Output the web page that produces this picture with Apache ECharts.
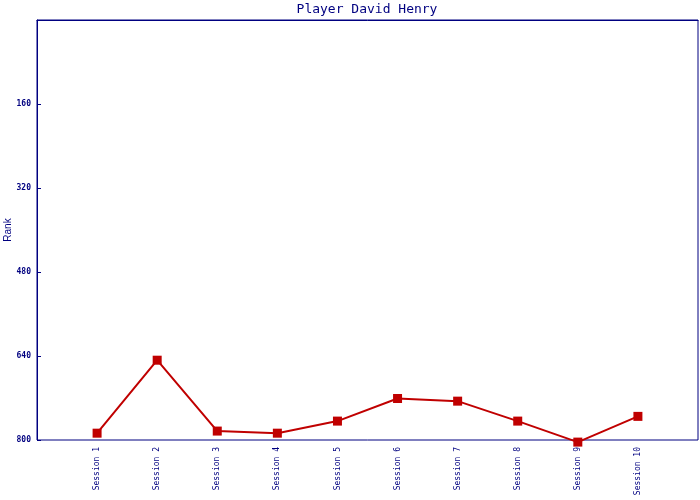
<!DOCTYPE html>
<html>
<head>
<meta charset="utf-8">
<script src="https://cdn.jsdelivr.net/npm/echarts@6/dist/echarts.min.js"></script>
<style>html,body{margin:0;padding:0;background:#fff}#c{width:700px;height:500px}</style>
</head>
<body>
<div id="c"></div>
<script>
var categories = ['', 'Session 1', 'Session 2', 'Session 3', 'Session 4', 'Session 5', 'Session 6', 'Session 7', 'Session 8', 'Session 9', 'Session 10', ''];
var rankValues = ['-', 787, 648, 783, 787, 764, 721, 726, 764, 804, 755, '-'];
var yTicks = [0, 160, 320, 480, 640, 800];

var navy = '#000080';
var chart = echarts.init(document.getElementById('c'), null, {renderer: 'canvas'});
chart.setOption({
  animation: false,
  backgroundColor: '#ffffff',
  title: {
    text: 'Player David Henry',
    left: 367, top: 3, textAlign: 'center', padding: 0,
    textStyle: {color: navy, fontFamily: 'DejaVu Sans Mono', fontSize: 13, fontWeight: 'normal'}
  },
  grid: {left: 37, right: 2, top: 20, bottom: 60, containLabel: false, outerBoundsMode: 'none',
         show: true, borderColor: navy, borderWidth: 1, backgroundColor: 'transparent'},
  xAxis: {
    type: 'category', data: categories, boundaryGap: false,
    axisLine: {lineStyle: {color: navy, width: 1}},
    axisTick: {show: false},
    splitLine: {show: false},
    axisLabel: {interval: 0, rotate: 90, margin: 7, color: navy, fontFamily: 'DejaVu Sans Mono', fontSize: 8}
  },
  yAxis: {
    type: 'value', inverse: true, min: yTicks[0], max: yTicks[yTicks.length - 1], interval: 160,
    name: 'Rank', nameLocation: 'middle', nameGap: 24, nameRotate: 90, nameMoveOverlap: false,
    nameTextStyle: {color: navy, fontFamily: 'Liberation Sans', fontSize: 10},
    axisLine: {show: true, lineStyle: {color: navy, width: 1}},
    axisTick: {show: true, inside: true, length: 4, lineStyle: {color: navy}},
    splitLine: {show: false},
    axisLabel: {
      margin: 6, color: navy, fontFamily: 'DejaVu Sans Mono', fontSize: 8, fontWeight: 'bold',
      formatter: function (v) { return v === 0 ? '' : String(v); }
    }
  },
  series: [{
    type: 'line', data: rankValues, clip: false,
    symbol: 'rect', symbolSize: 9, showAllSymbol: true,
    lineStyle: {color: '#c00000', width: 2},
    itemStyle: {color: '#c00000', borderWidth: 0}
  }]
});
</script>
</body>
</html>
